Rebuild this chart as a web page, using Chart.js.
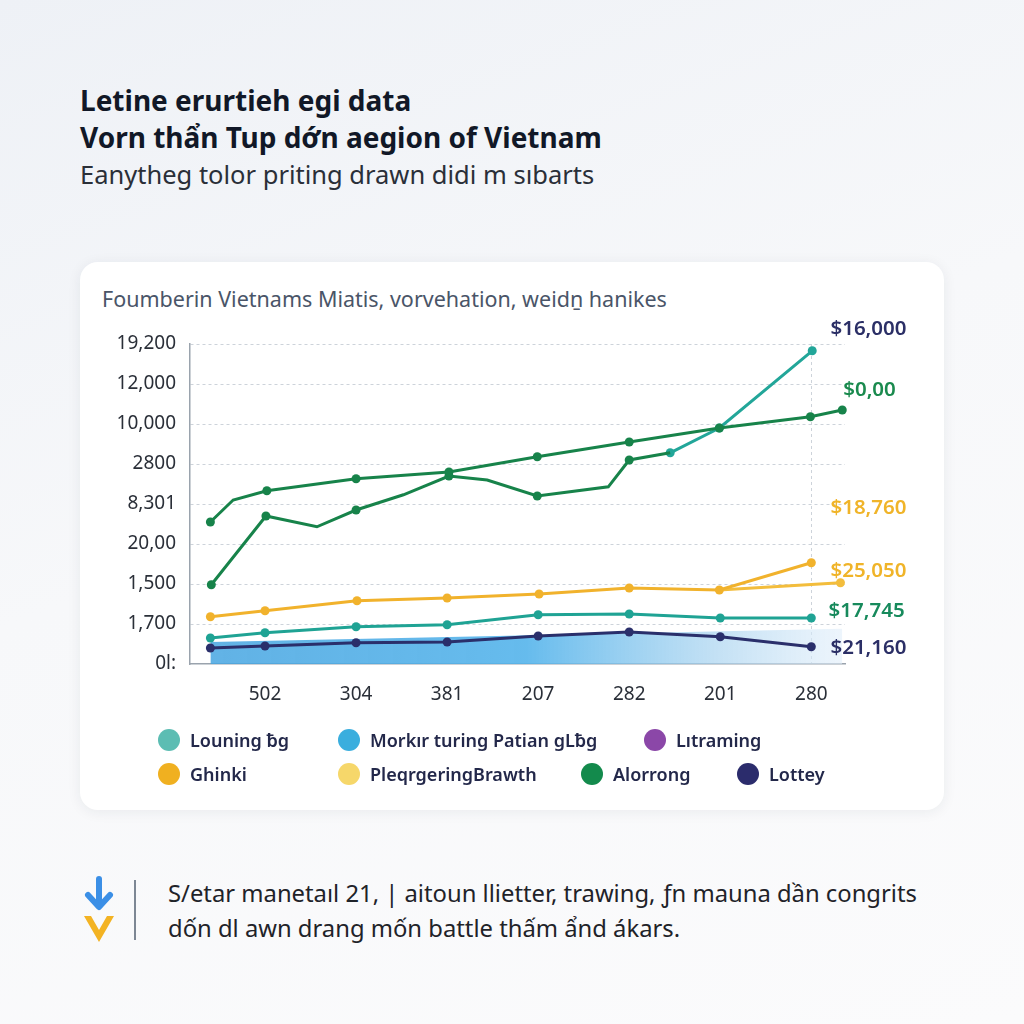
<!DOCTYPE html>
<html>
<head>
<meta charset="utf-8">
<script src="https://cdn.jsdelivr.net/npm/chart.js@4.4.1/dist/chart.umd.min.js"></script>
<style>
  html, body { margin: 0; padding: 0; }
  body {
    width: 1024px; height: 1024px; position: relative; overflow: hidden;
    background: linear-gradient(160deg, #eef1f6 0%, #f7f8fa 45%, #fbfbfc 100%);
    font-family: "Noto Sans", "Open Sans", sans-serif;
  }
  .title { position: absolute; left: 80px; color: #111827; font-weight: 700; font-size: 28px; white-space: nowrap; }
  .sub { position: absolute; left: 80px; top: 157px; color: #2a2f38; font-size: 25.5px; white-space: nowrap; }
  .card {
    position: absolute; left: 80px; top: 262px; width: 864px; height: 548px;
    background: #fff; border-radius: 18px; box-shadow: 0 2px 14px rgba(30, 40, 60, 0.07);
  }
  .card-title { position: absolute; left: 22px; top: 22px; font-size: 21.5px; color: #4a5568; white-space: nowrap; }
  #chart { position: absolute; left: 0; top: 0; }
  .legend { position: absolute; font-size: 18px; font-weight: 600; color: #23284a; white-space: nowrap; }
  .legend span.dot { position: absolute; width: 22px; height: 22px; border-radius: 50%; left: -32px; top: 1px; }
  .note { position: absolute; left: 168px; font-size: 23.8px; color: #1f2329; white-space: nowrap; }
  .bar { position: absolute; left: 134px; top: 880px; width: 2px; height: 60px; background: #7d8794; }
</style>
</head>
<body>
<div class="title" style="top:81px">Letine erurtieh egi data</div>
<div class="title" style="top:118px">Vorn thẩn Tup dớn aegion of Vietnam</div>
<div class="sub">Eanytheg tolor priting drawn didi m sıbarts</div>

<div class="card">
  <div class="card-title">Foumberin Vietnams Miatis, vorvehation, weidṉ hanikes</div>
  <canvas id="chart" width="864" height="548"></canvas>
</div>

<div id="legend"></div>

<svg style="position:absolute;left:82px;top:876px" width="34" height="70" viewBox="0 0 34 70">
  <path d="M17 3 V28" stroke="#3b8fe6" stroke-width="6" stroke-linecap="round" fill="none"/>
  <path d="M6 19 L17 31 L28 19" stroke="#3b8fe6" stroke-width="6" stroke-linecap="round" stroke-linejoin="round" fill="none"/>
  <path d="M2 40 L17 66 L32 40 L25 40 L17 54 L9 40 Z" fill="#f3b323"/>
</svg>
<div class="bar"></div>
<div class="note" style="top:877px">S/etar manetaıl 21, | aitoun llietter, trawing, ƒn mauna dần congrits</div>
<div class="note" style="top:912px">dốn dl awn drang mốn battle thấm ẩnd ákars.</div>

<script>
// ---- data ----
const xTickLabels = ['502', '304', '381', '207', '282', '201', '280'];
const yTickLabels = ['0l:', '1,700', '1,500', '20,00', '8,301', '2800', '10,000', '12,000', '19,200'];

// upper green line
const alorrongX = [-0.6, -0.35, 0.02, 1.0, 2.02, 2.99, 4.0, 4.99, 5.99, 6.34];
const alorrongY = [3.55, 4.10, 4.33, 4.63, 4.80, 5.18, 5.55, 5.90, 6.18, 6.35];
const alorrongDots = [1, 0, 1, 1, 1, 1, 1, 1, 1, 1];

// lower green line
const alorrong2X = [-0.59, 0.01, 0.57, 1.0, 1.52, 2.02, 2.44, 2.99, 3.77, 4.0, 4.45];
const alorrong2Y = [1.98, 3.70, 3.43, 3.85, 4.23, 4.70, 4.60, 4.20, 4.43, 5.10, 5.28];
const alorrong2Dots = [1, 1, 0, 1, 0, 1, 0, 1, 0, 1, 0];

// teal line rising to the top
const spikeX = [4.45, 4.99, 6.01];
const spikeY = [5.28, 5.90, 7.83];

// orange line + its light twin
const ghinkiX = [-0.6, 0, 1.01, 2.0, 3.01, 4.0, 4.99, 6.0];
const ghinkiY = [1.18, 1.33, 1.58, 1.65, 1.75, 1.90, 1.85, 2.53];
const plegrX = [4.99, 6.32];
const plegrY = [1.85, 2.03];

// teal low line
const louningX = [-0.6, 0, 1, 2, 3, 4, 5, 6];
const louningY = [0.65, 0.78, 0.93, 0.98, 1.23, 1.25, 1.15, 1.15];

// navy line
const lotteyX = [-0.6, 0, 1, 2, 3, 4, 5, 6];
const lotteyY = [0.40, 0.45, 0.53, 0.55, 0.70, 0.80, 0.68, 0.43];

// blue band under the navy line
const morkerX = [-0.6, 6.34];
const morkerY = [0.55, 0.88];

// labels at the right end
const endLabels = ['$16,000', '$0,00', '$18,760', '$25,050', '$17,745', '$21,160'];
const endLabelX = [6.21, 6.35, 6.21, 6.21, 6.19, 6.21];
const endLabelY = [8.38, 6.85, 3.9, 2.33, 1.33, 0.4];
const endLabelColors = ['#2b2f66', '#1a8a4e', '#f0b429', '#f0b429', '#178a5c', '#2b2f66'];

const legendRows = [
    [['Louning ƀg', '#5cbdb3', 190], ['Morkır turing Patian gLƀg', '#3aaede', 370], ['Lıtraming', '#8b47a8', 676]],
    [['Ghinki', '#f0b020', 190], ['PleqrgeringBrawth', '#f6d76a', 370], ['Alorrong', '#138a4c', 613], ['Lottey', '#2b2c6c', 769]]
];

// ---- legend (html) ----
const legendEl = document.getElementById('legend');
legendRows.forEach((row, r) => {
    row.forEach(([text, color, left]) => {
        const d = document.createElement('div');
        d.className = 'legend';
        d.style.left = left + 'px';
        d.style.top = (728 + r * 34) + 'px';
        d.innerHTML = '<span class="dot" style="background:' + color + '"></span>' + text;
        legendEl.appendChild(d);
    });
});

const pts = (xs, ys) => xs.map((x, i) => ({ x: x, y: ys[i] }));

function lineSet(label, xs, ys, color, dots) {
    return {
        label: label,
        data: pts(xs, ys),
        borderColor: color,
        backgroundColor: color,
        borderWidth: 3,
        pointRadius: dots ? dots.map(d => d ? 4.5 : 0) : 4.5,
        pointBorderWidth: 0,
        tension: 0,
        fill: false,
        order: 1
    };
}

const endLabelPlugin = {
    id: 'endLabels',
    afterDraw(chart) {
        const c = chart.ctx;
        const xs = chart.scales.x, ys = chart.scales.y;
        c.save();
        c.font = '600 20.5px "Noto Sans", sans-serif';
        c.textBaseline = 'middle';
        c.textAlign = 'left';
        endLabels.forEach((t, i) => {
            c.fillStyle = endLabelColors[i];
            c.fillText(t, xs.getPixelForValue(endLabelX[i]), ys.getPixelForValue(endLabelY[i]));
        });
        c.restore();
    }
};

new Chart(document.getElementById('chart'), {
    type: 'line',
    data: {
        datasets: [
            lineSet('Alorrong', alorrongX, alorrongY, '#17834a', alorrongDots),
            lineSet('Alorrong 2', alorrong2X, alorrong2Y, '#17834a', alorrong2Dots),
            lineSet('Louning spike', spikeX, spikeY, '#22a699', [1, 1, 1]),
            lineSet('Ghinki', ghinkiX, ghinkiY, '#f1b22c'),
            lineSet('PleqrgeringBrawth', plegrX, plegrY, '#f3bd3c', [0, 1]),
            lineSet('Louning', louningX, louningY, '#1fa394'),
            lineSet('Lottey', lotteyX, lotteyY, '#2a2f6b'),
            {
                label: 'Morker',
                data: pts(morkerX, morkerY),
                borderWidth: 0,
                pointRadius: 0,
                fill: 'origin',
                order: 10,
                backgroundColor: (ctx) => {
                    const chart = ctx.chart;
                    const area = chart.chartArea;
                    if (!area) return 'rgba(74,170,230,0.8)';
                    const x0 = chart.scales.x.getPixelForValue(morkerX[0]);
                    const x1 = chart.scales.x.getPixelForValue(morkerX[1]);
                    const g = chart.ctx.createLinearGradient(x0, 0, x1, 0);
                    g.addColorStop(0, 'rgba(70,165,225,0.85)');
                    g.addColorStop(0.5, 'rgba(85,180,235,0.9)');
                    g.addColorStop(0.8, 'rgba(170,212,240,0.7)');
                    g.addColorStop(1, 'rgba(225,238,250,0.6)');
                    return g;
                }
            }
        ]
    },
    options: {
        responsive: false,
        animation: false,
        clip: false,
        layout: { padding: { left: 0, top: 82, right: 99, bottom: 96 } },
        plugins: { legend: { display: false }, tooltip: { enabled: false } },
        scales: {
            x: {
                type: 'linear',
                min: -0.824,
                max: 6.37,
                afterBuildTicks: (scale) => { scale.ticks = xTickLabels.map((_, i) => ({ value: i })); },
                afterFit: (scale) => { scale.height = 50; },
                ticks: {
                    padding: 19,
                    color: '#2a2f38',
                    font: { size: 19, family: '"Noto Sans", sans-serif' },
                    callback: (v) => xTickLabels[v]
                },
                grid: {
                    drawTicks: false,
                    color: (ctx) => ctx.tick && ctx.tick.value === 6 ? '#cdd3da' : 'rgba(0,0,0,0)',
                    lineWidth: 1
                },
                border: { display: true, color: '#9aa3ad', width: 1.5, dash: [3, 3] }
            },
            y: {
                min: 0,
                max: 8,
                afterBuildTicks: (scale) => { scale.ticks = yTickLabels.map((_, i) => ({ value: i })); },
                afterFit: (scale) => { scale.width = 110; },
                ticks: {
                    padding: 14,
                    color: '#2a2f38',
                    font: { size: 19, family: '"Noto Sans", sans-serif' },
                    callback: (v) => yTickLabels[v]
                },
                grid: {
                    drawTicks: false,
                    color: (ctx) => ctx.tick && ctx.tick.value === 0 ? 'rgba(0,0,0,0)' : '#cdd3da',
                    lineWidth: 1
                },
                border: { display: true, color: '#9aa3ad', width: 1.5, dash: [3, 3] }
            }
        }
    },
    plugins: [endLabelPlugin]
});
</script>
</body>
</html>
